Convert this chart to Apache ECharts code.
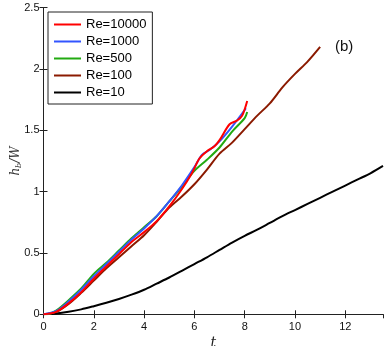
<!DOCTYPE html>
<html>
<head>
<meta charset="utf-8">
<script src="https://cdn.jsdelivr.net/npm/echarts@6/dist/echarts.min.js"></script>
<style>
  html, body { margin: 0; padding: 0; background: #fff; }
  #chart { width: 388px; height: 346px; }
</style>
</head>
<body>
<div id="chart"></div>
<script>
  // values: t on x, h_b/W on y
  const names = ['Re=10000', 'Re=1000', 'Re=500', 'Re=100', 'Re=10']
  const colors = ['#ff0000', '#3355ff', '#22aa11', '#8b1a00', '#000000']

  const tRe10000 = [0, 0.5, 1, 1.5, 2, 2.5, 3, 3.5, 4, 4.5, 5, 5.5, 5.9, 6.2, 6.5, 6.8, 7, 7.4, 7.7, 7.9, 8.1]
  const hRe10000 = [0, 0.02, 0.09, 0.18, 0.29, 0.39, 0.49, 0.59, 0.67, 0.76, 0.88, 1.02, 1.15, 1.27, 1.33, 1.37, 1.42, 1.55, 1.58, 1.62, 1.74]

  const tRe1000 = [0, 0.5, 1, 1.5, 2, 2.5, 3, 3.5, 4, 4.5, 5, 5.5, 6, 6.3, 6.6, 7, 7.5, 8.05]
  const hRe1000 = [0, 0.025, 0.105, 0.2, 0.31, 0.41, 0.51, 0.61, 0.7, 0.8, 0.92, 1.05, 1.2, 1.3, 1.34, 1.41, 1.53, 1.68]

  const tRe500 = [0, 0.25, 0.5, 0.75, 1, 1.5, 2, 2.5, 3, 3.5, 4, 4.5, 5, 5.5, 6, 6.5, 7, 7.5, 8, 8.1]
  const hRe500 = [0, 0.005, 0.03, 0.07, 0.115, 0.21, 0.33, 0.42, 0.52, 0.62, 0.71, 0.8, 0.92, 1.04, 1.17, 1.26, 1.36, 1.49, 1.6, 1.65]

  const tRe100 = [0, 0.5, 1, 1.5, 2, 2.5, 3, 3.5, 4, 4.5, 5, 5.5, 6, 6.5, 7, 7.5, 8, 8.5, 9, 9.5, 10, 10.5, 11]
  const hRe100 = [0, 0.02, 0.085, 0.175, 0.275, 0.375, 0.465, 0.555, 0.645, 0.755, 0.87, 0.96, 1.06, 1.18, 1.31, 1.4, 1.51, 1.62, 1.72, 1.85, 1.96, 2.06, 2.18]

  const tRe10 = [0, 0.5, 1, 1.5, 2, 2.5, 3, 3.5, 4, 4.5, 5, 5.5, 6, 6.5, 7, 7.5, 8, 8.5, 9, 9.5, 10, 10.5, 11, 11.5, 12, 12.5, 13, 13.5]
  const hRe10 = [0, 0.006, 0.02, 0.04, 0.066, 0.094, 0.125, 0.16, 0.2, 0.25, 0.3, 0.355, 0.41, 0.465, 0.525, 0.585, 0.64, 0.69, 0.745, 0.8, 0.85, 0.9, 0.95, 1.0, 1.05, 1.1, 1.15, 1.21]

  const xTicks = [0, 2, 4, 6, 8, 10, 12]
  const yTicks = [0, 0.5, 1, 1.5, 2, 2.5]

  const tList = [tRe10000, tRe1000, tRe500, tRe100, tRe10]
  const hList = [hRe10000, hRe1000, hRe500, hRe100, hRe10]

  let chart = echarts.init(document.getElementById('chart'))

  const axisCommon = {
    axisLine: { lineStyle: { color: '#222', width: 1 } },
    axisTick: { inside: true, length: 4, lineStyle: { color: '#222' } },
    splitLine: { show: false },
    axisLabel: { color: '#111', fontSize: 11, fontFamily: 'Liberation Sans' },
  }

  chart.setOption({
    animation: false,
    grid: { left: 43.5, right: 5, top: 7.7, bottom: 31.7, outerBoundsMode: 'none', containLabel: false },
    legend: {
      orient: 'vertical',
      left: 48,
      top: 12,
      data: names,
      icon: 'rect',
      itemWidth: 27,
      itemHeight: 2,
      itemGap: 4,
      padding: [6, 6, 5, 6],
      borderColor: '#222',
      borderWidth: 1,
      backgroundColor: '#fff',
      textStyle: { color: '#000', fontSize: 13, fontFamily: 'Liberation Sans' },
    },
    xAxis: [
      Object.assign({}, axisCommon, {
        type: 'value', min: 0, max: 13.5, interval: 2,
        name: 't', nameLocation: 'middle', nameGap: 22, nameMoveOverlap: false,
        nameTextStyle: { fontSize: 14, fontStyle: 'italic', fontFamily: 'DejaVu Serif', color: '#222' },
        axisLabel: Object.assign({}, axisCommon.axisLabel, {
          margin: 7,
          showMaxLabel: false,
          formatter: v => (xTicks.indexOf(v) >= 0 ? String(v) : ''),
        }),
      }),
      Object.assign({}, axisCommon, {
        type: 'value', position: 'top', min: 0, max: 13.5, interval: 2,
        axisLabel: { show: false },
      }),
    ],
    yAxis: [
      Object.assign({}, axisCommon, {
        type: 'value', min: 0, max: 2.5, interval: 0.5,
        name: '{i|h}{s|b}{i|/W}', nameLocation: 'middle', nameGap: 21, nameRotate: 90, nameMoveOverlap: false,
        nameTextStyle: {
          color: '#333',
          rich: {
            i: { fontSize: 12, fontStyle: 'italic', fontFamily: 'DejaVu Serif', color: '#333' },
            s: { fontSize: 8, fontStyle: 'italic', fontFamily: 'DejaVu Serif', color: '#333', padding: [6, 0, 0, 0] },
          },
        },
        axisLabel: Object.assign({}, axisCommon.axisLabel, {
          margin: 4,
          formatter: v => (yTicks.indexOf(v) >= 0 ? String(v) : ''),
        }),
      }),
      Object.assign({}, axisCommon, {
        type: 'value', position: 'right', min: 0, max: 2.5, interval: 0.5,
        axisLabel: { show: false },
      }),
    ],
    graphic: [
      {
        type: 'text', left: 335, top: 39,
        style: { text: '(b)', fontSize: 15, fontFamily: 'Liberation Sans', fill: '#111' },
      },
    ],
    series: names.map((n, i) => ({
      name: n,
      type: 'line',
      showSymbol: false,
      smooth: 0.3,
      z: 10 - i,
      lineStyle: { color: colors[i], width: 2 },
      itemStyle: { color: colors[i] },
      data: tList[i].map((t, k) => [t, hList[i][k]]),
    })),
  })
</script>
</body>
</html>
